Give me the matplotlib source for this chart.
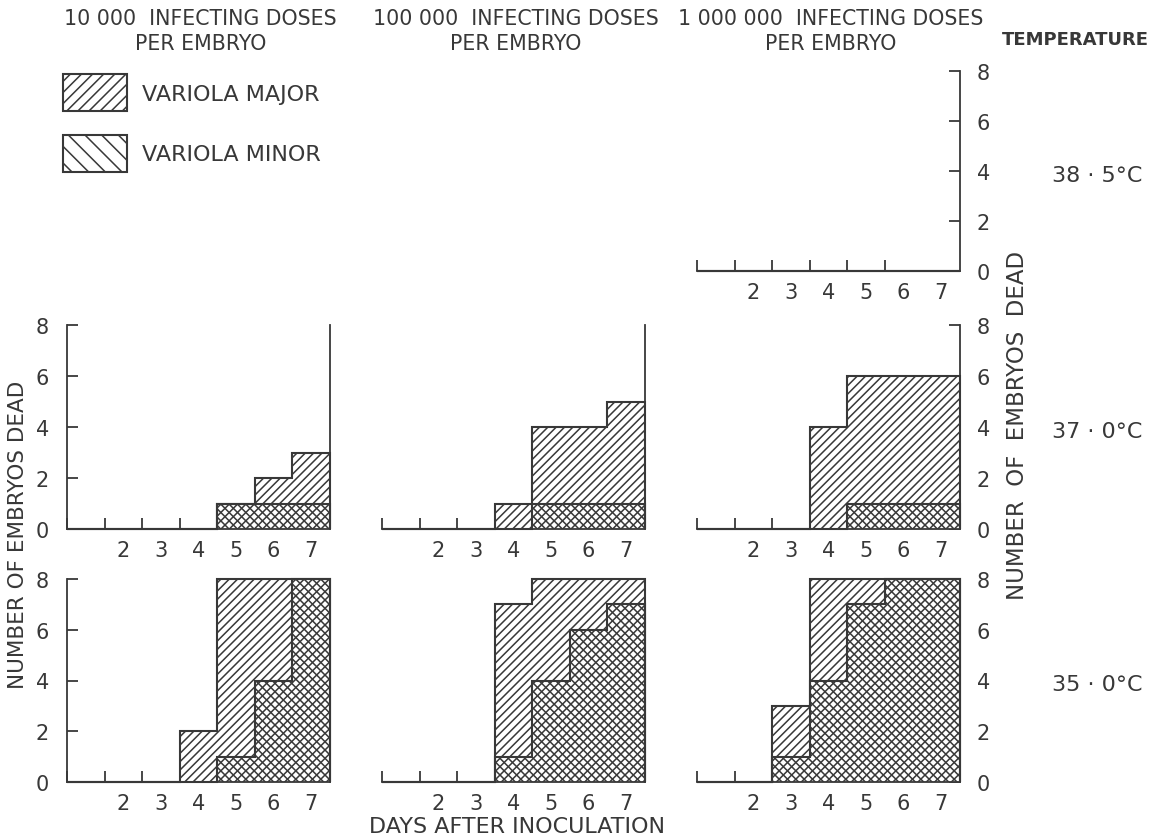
import matplotlib
matplotlib.use("Agg")
import matplotlib.pyplot as plt
from matplotlib.patches import Patch

# days after inoculation, one bin per day
days = [1, 2, 3, 4, 5, 6, 7]
day_labels = ["2", "3", "4", "5", "6", "7"]
y_ticks = [0, 2, 4, 6, 8]

dose_titles = ["10 000  INFECTING DOSES\nPER EMBRYO",
               "100 000  INFECTING DOSES\nPER EMBRYO",
               "1 000 000  INFECTING DOSES\nPER EMBRYO"]
temps = ["38 · 5°C", "37 · 0°C", "35 · 0°C"]

# number of embryos dead (cumulative), variola major / minor
major_385_1m = [0, 0, 0, 0, 0, 0, 0]
minor_385_1m = [0, 0, 0, 0, 0, 0, 0]

major_37_10k = [0, 0, 0, 0, 1, 2, 3]
minor_37_10k = [0, 0, 0, 0, 1, 1, 1]
major_37_100k = [0, 0, 0, 1, 4, 4, 5]
minor_37_100k = [0, 0, 0, 0, 1, 1, 1]
major_37_1m = [0, 0, 0, 4, 6, 6, 6]
minor_37_1m = [0, 0, 0, 0, 1, 1, 1]

major_35_10k = [0, 0, 0, 2, 8, 8, 8]
minor_35_10k = [0, 0, 0, 0, 1, 4, 8]
major_35_100k = [0, 0, 0, 7, 8, 8, 8]
minor_35_100k = [0, 0, 0, 1, 4, 6, 7]
major_35_1m = [0, 0, 3, 8, 8, 8, 8]
minor_35_1m = [0, 0, 1, 4, 7, 8, 8]

panels = {
    (0, 2): (major_385_1m, minor_385_1m),
    (1, 0): (major_37_10k, minor_37_10k),
    (1, 1): (major_37_100k, minor_37_100k),
    (1, 2): (major_37_1m, minor_37_1m),
    (2, 0): (major_35_10k, minor_35_10k),
    (2, 1): (major_35_100k, minor_35_100k),
    (2, 2): (major_35_1m, minor_35_1m),
}

ink = "#383838"
plt.rcParams["font.family"] = "DejaVu Sans"
plt.rcParams["hatch.color"] = ink
plt.rcParams["hatch.linewidth"] = 1.1
plt.rcParams["text.color"] = ink

W, H = 1159, 837
fig = plt.figure(figsize=(W / 100, H / 100), dpi=100)

col_x = [67, 382, 697]
col_w = 263
rows_y = [(72, 272), (326, 530), (580, 783)]

edges = [d - 0.5 for d in days] + [days[-1] + 0.5]
bounds = edges[:-2]

for (r, c), (major, minor) in panels.items():
    y8, y0 = rows_y[r]
    ax = fig.add_axes([col_x[c] / W, 1 - y0 / H, col_w / W, (y0 - y8) / H])
    ax.set_facecolor("none")
    ax.set_xlim(edges[0], edges[-1])
    ax.set_ylim(0, 8)
    ax.stairs(major, edges, fill=True, facecolor="white", edgecolor=ink,
              hatch="////", linewidth=1.5, clip_on=False, zorder=2)
    ax.stairs(minor, edges, fill=True, facecolor="none", edgecolor=ink,
              hatch="\\\\\\\\", linewidth=1.5, clip_on=False, zorder=3)

    for s in ax.spines.values():
        s.set_color(ink)
        s.set_linewidth(1.3)
    ax.spines["top"].set_visible(False)
    ax.spines["left"].set_visible(c == 0)

    ax.set_xticks(bounds)
    ax.set_xticklabels([])
    ax.set_xticks(days[1:], labels=day_labels, minor=True)
    ax.tick_params(axis="x", which="major", direction="in", length=8,
                   width=1.3, color=ink)
    ax.tick_params(axis="x", which="minor", length=0, pad=8,
                   labelsize=15, labelcolor=ink)

    ax.set_yticks(y_ticks)
    if c == 0:
        ax.tick_params(axis="y", direction="in", length=8, width=1.3,
                       color=ink, pad=13, labelsize=15, labelcolor=ink,
                       right=False)
    elif c == 2:
        ax.yaxis.tick_right()
        ax.tick_params(axis="y", direction="in", length=8, width=1.3,
                       color=ink, pad=12, labelsize=15, labelcolor=ink,
                       left=False)
    else:
        ax.tick_params(axis="y", left=False, right=False,
                       labelleft=False, labelright=False)


def fx(px):
    return px / W


def fy(py):
    return 1 - py / H


for c, title in enumerate(dose_titles):
    fig.text(fx(col_x[c] + col_w / 2 + 2), fy(9), title, ha="center",
             va="top", fontsize=14.8, linespacing=1.3)

fig.text(fx(1075), fy(40), "TEMPERATURE", ha="center", va="center",
         fontsize=13, fontweight="bold")
for r, t in enumerate(temps):
    y8, y0 = rows_y[r]
    fig.text(fx(1097), fy((y8 + y0) / 2 + 4), t, ha="center", va="center",
             fontsize=16)

fig.text(fx(18), fy(535), "NUMBER OF EMBRYOS DEAD", rotation=90,
         ha="center", va="center", fontsize=15.5)
fig.text(fx(1017), fy(425), "NUMBER  OF  EMBRYOS  DEAD", rotation=90,
         ha="center", va="center", fontsize=16.5)
fig.text(fx(517), fy(827), "DAYS AFTER INOCULATION", ha="center",
         va="center", fontsize=16)

handles = [
    Patch(facecolor="white", edgecolor=ink, hatch="///", linewidth=1.5,
          label="VARIOLA MAJOR"),
    Patch(facecolor="white", edgecolor=ink, hatch="\\\\", linewidth=1.5,
          label="VARIOLA MINOR"),
]
fig.legend(handles=handles, loc="upper left", bbox_to_anchor=(fx(63), fy(75)),
           frameon=False, fontsize=16, handlelength=2.9, handleheight=2.2,
           labelspacing=1.05, handletextpad=0.65, borderpad=0,
           borderaxespad=0)

fig.savefig("out.png", dpi=100)
